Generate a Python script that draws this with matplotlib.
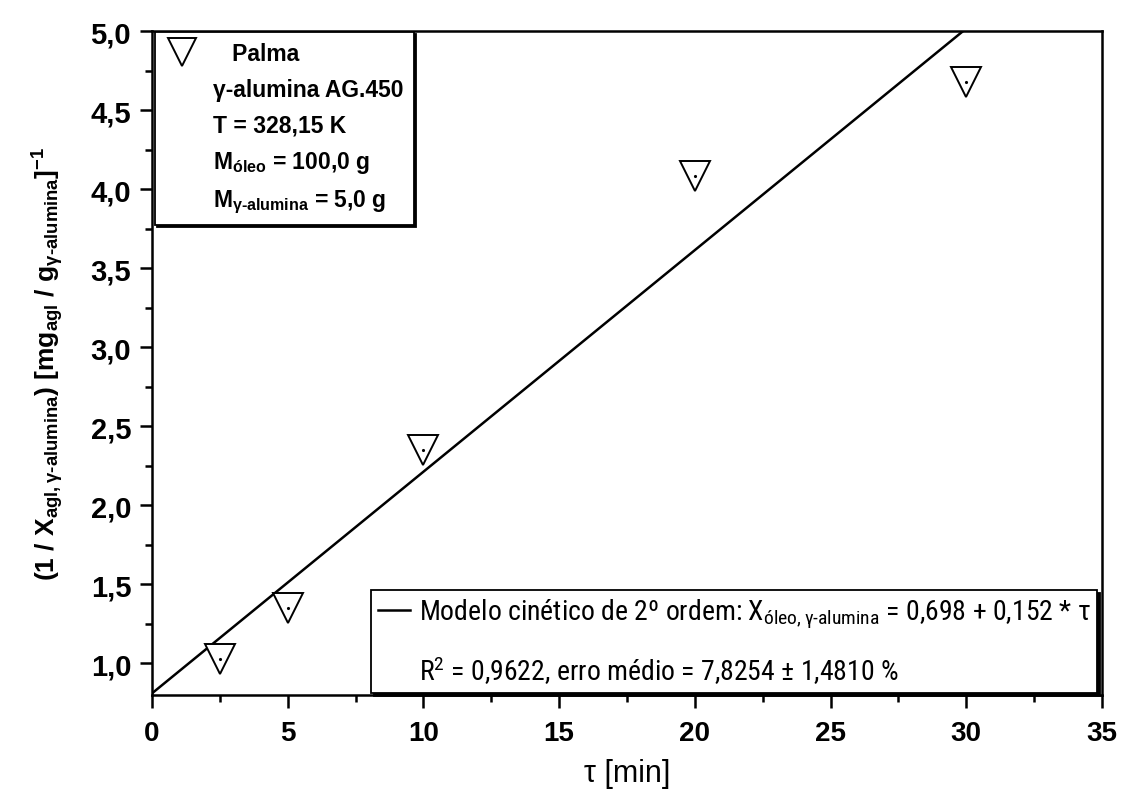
import numpy as np
import matplotlib
matplotlib.use('Agg')
import matplotlib.pyplot as plt
from matplotlib import font_manager
from matplotlib.lines import Line2D
from matplotlib.ticker import MultipleLocator, FuncFormatter

# data
tau = [2.5, 5, 10, 20, 30]
inv_x = [1.03, 1.35, 2.35, 4.08, 4.68]

# drawn model line (as it appears in the figure)
fit_a = 0.81
fit_b = 0.1402
tau_fit = [0, 35]

x_ticks = [0, 5, 10, 15, 20, 25, 30, 35]
y_ticks = [1.0, 1.5, 2.0, 2.5, 3.0, 3.5, 4.0, 4.5, 5.0]

# condensed font for the model legend, if one is installed
names = {f.name for f in font_manager.fontManager.ttflist}
narrow, narrow_size = 'Liberation Sans', 17.5
for cand in ['Liberation Sans Narrow', 'Roboto Condensed', 'Open Sans Condensed', 'Noto Sans Condensed']:
    if cand in names:
        narrow, narrow_size = cand, 20
        break

plt.rcParams['font.family'] = ['Liberation Sans', 'DejaVu Sans']
plt.rcParams['mathtext.default'] = 'regular'
hy = '\u2010'

fig = plt.figure(figsize=(11.24, 8.03), dpi=100)
ax = fig.add_axes([0.1352, 0.1333, 0.8452, 0.8268])

yfit = [fit_a + fit_b * t for t in tau_fit]
ax.plot(tau_fit, yfit, color='black', lw=1.8, zorder=2)
ax.plot(tau, inv_x, linestyle='none', marker='v', ms=21, mfc='white', mec='black', mew=1.4, zorder=3)
ax.plot(tau, inv_x, linestyle='none', marker='.', ms=2.5, color='black', zorder=4)

ax.set_xlim(0, 35)
ax.set_ylim(0.8, 5.0)
ax.set_xticks(x_ticks)
ax.set_yticks(y_ticks)
ax.xaxis.set_minor_locator(MultipleLocator(2.5))
ax.yaxis.set_minor_locator(MultipleLocator(0.25))
ax.yaxis.set_major_formatter(FuncFormatter(lambda v, p: f'{v:.1f}'.replace('.', ',')))

for s in ax.spines.values():
    s.set_linewidth(1.8)
ax.tick_params(which='major', direction='out', length=9, width=1.8)
ax.tick_params(which='minor', direction='out', length=5, width=1.8)
ax.tick_params(axis='x', labelsize=20, pad=9)
ax.tick_params(axis='y', labelsize=21, pad=6)
for lab in ax.get_yticklabels() + ax.get_xticklabels():
    lab.set_fontweight('bold')

ax.set_xlabel('τ [min]', fontsize=22, labelpad=9)
ax.set_ylabel(f'(1 / X$_{{agl,γ{hy}alumina}}$) [mg$_{{agl}}$ / g$_{{γ{hy}alumina}}$]$^{{-1}}$',
              fontsize=19, fontweight='bold', labelpad=18)

# legend 1: sample description
h_data = Line2D([], [], linestyle='none', marker='v', ms=20, mfc='white', mec='black', mew=1.4)
blank = Line2D([], [], linestyle='none')
labels1 = ['   Palma', f'γ{hy}alumina AG.450', 'T = 328,15 K',
           'M$_{óleo}$ = 100,0 g', f'M$_{{γ{hy}alumina}}$ = 5,0 g']
leg1 = ax.legend([h_data, blank, blank, blank, blank], labels1, loc='upper left',
                 bbox_to_anchor=(0.003, 0.999), borderaxespad=0, frameon=True, fancybox=False,
                 edgecolor='black', framealpha=1, handlelength=1.5, handletextpad=0.6,
                 labelspacing=0.55, borderpad=0.45,
                 shadow={'color': 'black', 'ox': 1.5, 'oy': -1.5, 'alpha': 1},
                 prop={'family': 'Liberation Sans', 'weight': 'bold', 'size': 16.5})
leg1.get_frame().set_linewidth(1.3)
ax.add_artist(leg1)

# legend 2: model
h_line = Line2D([], [], color='black', lw=1.8)
labels2 = [f'Modelo cinético de 2º ordem: X$_{{óleo,γ{hy}alumina}}$ = 0,698 + 0,152 * τ',
           'R$^{2}$ = 0,9622, erro médio = 7,8254 ± 1,4810 %']
leg2 = ax.legend([h_line, blank], labels2, loc='lower right', bbox_to_anchor=(0.995, 0.003),
                 borderaxespad=0, frameon=True, fancybox=False, edgecolor='black', framealpha=1,
                 handlelength=1.15, handletextpad=0.3, labelspacing=0.85, borderpad=0.25,
                 shadow={'color': 'black', 'ox': 2, 'oy': -2, 'alpha': 1},
                 prop={'family': [narrow, 'DejaVu Sans'], 'size': narrow_size})
leg2.get_frame().set_linewidth(1.3)

fig.savefig('out.png', dpi=100)
